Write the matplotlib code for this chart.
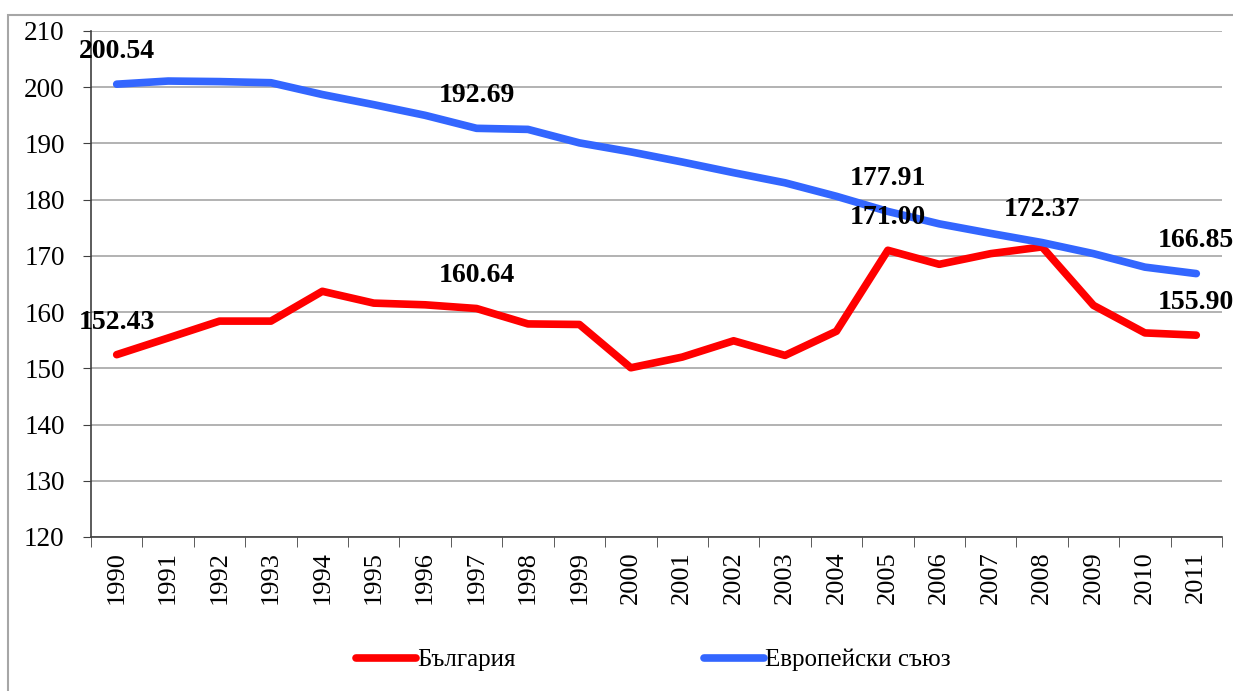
import matplotlib
matplotlib.use("Agg")
import matplotlib.pyplot as plt
from matplotlib.patches import Rectangle

years = [str(y) for y in range(1990, 2012)]
bulgaria = [152.43, 155.4, 158.4, 158.4, 163.7, 161.6, 161.3, 160.64, 157.9, 157.8, 150.1,
            152.0, 154.9, 152.3, 156.6, 171.00, 168.5, 170.4, 171.6, 161.2, 156.3, 155.90]
eu = [200.54, 201.1, 201.0, 200.8, 198.7, 196.9, 195.0, 192.69, 192.5, 190.1, 188.5,
      186.7, 184.8, 183.0, 180.6, 177.91, 175.7, 174.0, 172.37, 170.4, 168.0, 166.85]
# indices of the labelled points
bg_labels = [0, 7, 15, 21]
eu_labels = [0, 7, 15, 18, 21]

plt.rcParams["font.family"] = ["Liberation Serif", "DejaVu Serif"]

fig = plt.figure(figsize=(12.33, 6.91), dpi=100)
# chart-area frame: only top and left edges fall inside the picture
fig.patches.append(Rectangle((8 / 1233, -20 / 691), 1250 / 1233, (20 + 676) / 691,
                             transform=fig.transFigure, fill=False, edgecolor="#a6a6a6", lw=1.5))
ax = fig.add_axes([91 / 1233, 1 - 537 / 691, (1222 - 91) / 1233, (537 - 31) / 691])

x = list(range(len(years)))
ax.plot(x, bulgaria, color="#ff0000", lw=5.5, solid_capstyle="round", solid_joinstyle="round",
        label="България", zorder=3)
ax.plot(x, eu, color="#3366ff", lw=5.5, solid_capstyle="round", solid_joinstyle="round",
        label="Европейски съюз", zorder=3)

for i in bg_labels:
    ax.annotate(f"{bulgaria[i]:.2f}", (x[i], bulgaria[i]), xytext=(0, 23.5), textcoords="offset points",
                ha="center", va="center", fontsize=20, fontweight="bold", zorder=4)
for i in eu_labels:
    ax.annotate(f"{eu[i]:.2f}", (x[i], eu[i]), xytext=(0, 23.5), textcoords="offset points",
                ha="center", va="center", fontsize=20, fontweight="bold", zorder=4)

ax.set_ylim(120, 210)
ax.set_yticks(range(120, 211, 10))
ax.set_xlim(-0.5, len(years) - 0.5)
ax.set_xticks(x)
ax.set_xticklabels(years, rotation=90)
ax.set_xticks([i - 0.5 for i in range(len(years) + 1)], minor=True)
ax.tick_params(axis="x", which="major", length=0, labelsize=19, pad=10)
ax.tick_params(axis="x", which="minor", length=7, color="#404040", direction="out")
ax.tick_params(axis="y", length=6, color="#404040", labelsize=19.5, pad=13)
ax.grid(axis="y", color="#a6a6a6", lw=1.2)
ax.set_axisbelow(True)
for s in ["top", "right"]:
    ax.spines[s].set_visible(False)
for s in ["left", "bottom"]:
    ax.spines[s].set_color("#404040")
    ax.spines[s].set_linewidth(1.2)

fig.legend(loc="center", bbox_to_anchor=(0.53, 1 - 660 / 691), ncol=2, frameon=False, fontsize=18,
           handlelength=2.4, handletextpad=0.05, columnspacing=7.5)

fig.savefig("out.png", dpi=100)
